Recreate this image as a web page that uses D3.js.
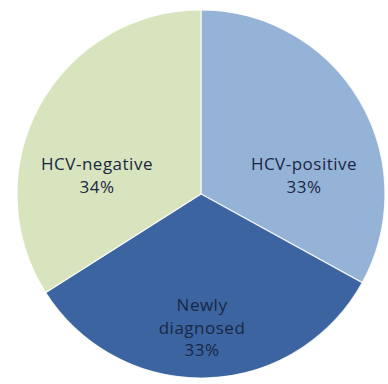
<!DOCTYPE html>
<html>
<head>
<meta charset="utf-8">
<script src="https://cdn.jsdelivr.net/npm/d3@7/dist/d3.min.js"></script>
<style>
  html, body { margin: 0; padding: 0; background: #fff; }
  svg { display: block; }
</style>
</head>
<body>
<svg id="chart" width="388" height="384"></svg>
<script>
// Patient groups and their share of the cohort (%)
const categories = ["HCV-positive", "Newly diagnosed", "HCV-negative"];
const values = [33, 33, 34];
const labelLines = [["HCV-positive", "33%"], ["Newly", "diagnosed", "33%"], ["HCV-negative", "34%"]];
const colors = ["#95b3d7", "#3b64a0", "#d7e4bd"];

const svg = d3.select("#chart");
const cx = 201, cy = 194, r = 184;

const g = svg.append("g").attr("transform", `translate(${cx},${cy})`);

const pie = d3.pie().sort(null).value(d => d.value);
const data = pie(categories.map((c, i) => ({ name: c, value: values[i], lines: labelLines[i], color: colors[i] })));

const arc = d3.arc().innerRadius(0).outerRadius(r);

g.selectAll("path.slice")
  .data(data)
  .enter().append("path")
  .attr("class", "slice")
  .attr("d", arc)
  .attr("fill", d => d.data.color)
  .attr("stroke", "#ffffff")
  .attr("stroke-width", 1.2)
  .attr("stroke-opacity", 0.8);

// label anchor offsets (relative to the pie centre), one per slice
const labelOffsets = [[103, -24], [1, 117], [-104, -24]];
const lineHeight = 22.5;

const labels = g.selectAll("text.label")
  .data(data)
  .enter().append("text")
  .attr("class", "label")
  .attr("text-anchor", "middle")
  .attr("font-family", "'Open Sans', sans-serif")
  .attr("font-size", 17)
  .attr("letter-spacing", 0.5)
  .attr("fill", "#1a2744")
  .attr("transform", (d, i) => `translate(${labelOffsets[i][0]},${labelOffsets[i][1]})`);

labels.each(function(d) {
  const t = d3.select(this);
  d.data.lines.forEach((line, j) => {
    t.append("tspan")
      .attr("x", 0)
      .attr("y", j * lineHeight)
      .text(line);
  });
});
</script>
</body>
</html>
